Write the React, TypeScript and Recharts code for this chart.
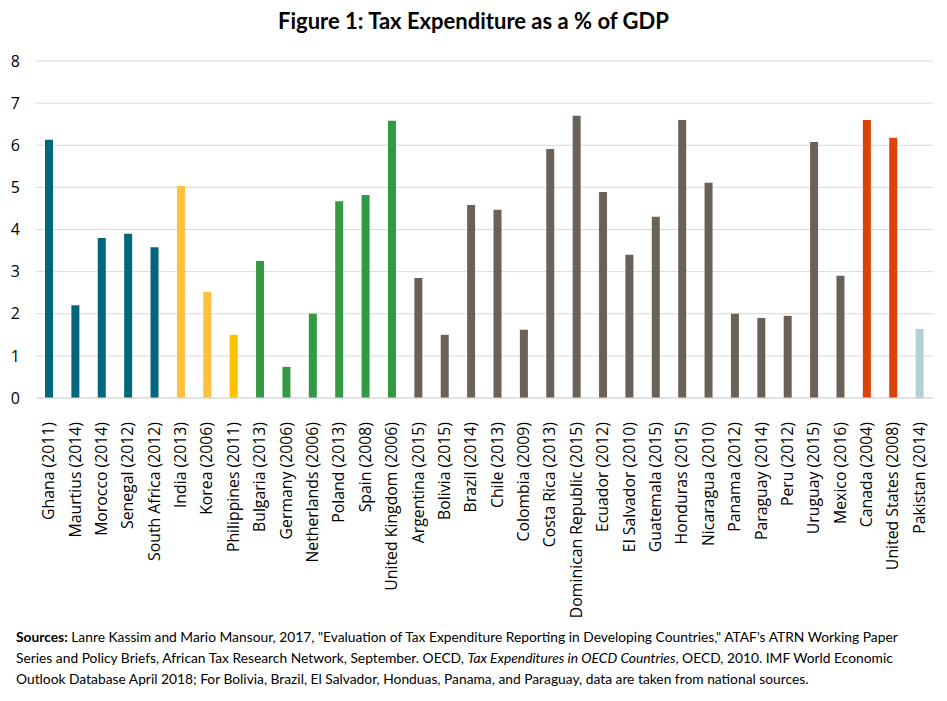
import React from 'react';
import { BarChart, Bar, XAxis, YAxis, CartesianGrid, Cell } from 'recharts';

// categories, in drawing order
const countries = [
  'Ghana (2011)', 'Maurtius (2014)', 'Morocco (2014)', 'Senegal (2012)', 'South Africa (2012)',
  'India (2013)', 'Korea (2006)', 'Philippines (2011)',
  'Bulgaria (2013)', 'Germany (2006)', 'Netherlands (2006)', 'Poland (2013)', 'Spain (2008)', 'United Kingdom (2006)',
  'Argentina (2015)', 'Bolivia (2015)', 'Brazil (2014)', 'Chile (2013)', 'Colombia (2009)', 'Costa Rica (2013)',
  'Dominican Republic (2015)', 'Ecuador (2012)', 'El Salvador (2010)', 'Guatemala (2015)', 'Honduras (2015)',
  'Nicaragua (2010)', 'Panama (2012)', 'Paraguay (2014)', 'Peru (2012)', 'Uruguay (2015)', 'Mexico (2016)',
  'Canada (2004)', 'United States (2008)', 'Pakistan (2014)',
];

const values = [
  6.13, 2.2, 3.8, 3.9, 3.58,
  5.03, 2.52, 1.5,
  3.25, 0.74, 2.0, 4.67, 4.82, 6.58,
  2.85, 1.5, 4.58, 4.47, 1.62, 5.91,
  6.7, 4.89, 3.4, 4.3, 6.6,
  5.11, 2.0, 1.9, 1.95, 6.08, 2.9,
  6.6, 6.18, 1.64,
];

// region of each bar
const regions = [
  'africa', 'africa', 'africa', 'africa', 'africa',
  'asia', 'asia', 'philippines',
  'europe', 'europe', 'europe', 'europe', 'europe', 'europe',
  'latam', 'latam', 'latam', 'latam', 'latam', 'latam',
  'latam', 'latam', 'latam', 'latam', 'latam',
  'latam', 'latam', 'latam', 'latam', 'latam', 'latam',
  'northam', 'northam', 'pakistan',
];

const regionColors: Record<string, string> = {
  africa: '#02677a',
  asia: '#ffbf3f',
  philippines: '#ffc000',
  europe: '#339a44',
  latam: '#6a6158',
  northam: '#da4409',
  pakistan: '#b5d0d3',
};

const yTicks = [0, 1, 2, 3, 4, 5, 6, 7, 8];

const data = countries.map((name, i) => ({ name, value: values[i], region: regions[i] }));

function RotatedTick(props: any) {
  const { x, y, payload } = props;
  return (
    <text
      x={0}
      y={0}
      transform={`translate(${x + 5},${y + 16}) rotate(-90)`}
      textAnchor="end"
      fontSize={15.8}
      fontFamily="'Open Sans', sans-serif"
      fill="#000"
    >
      {payload.value}
    </text>
  );
}

export default function App() {
  return (
    <div style={{ position: 'absolute', left: 0, top: 0, width: 947, height: 701, background: '#fff', fontFamily: "Lato, sans-serif" }}>
      <div style={{ position: 'absolute', top: 7, left: 0, width: 947, textAlign: 'center', fontSize: 22, fontWeight: 700, color: '#000' }}>
        Figure 1: Tax Expenditure as a % of GDP
      </div>
      <div style={{ position: 'absolute', top: 0, left: 0 }}>
        <BarChart width={947} height={620} data={data} margin={{ top: 61, right: 14, left: 0, bottom: 0 }}>
          <CartesianGrid vertical={false} stroke="#d9d9d9" strokeWidth={1} />
          <XAxis
            dataKey="name"
            interval={0}
            height={222}
            tick={<RotatedTick />}
            tickLine={false}
            axisLine={{ stroke: '#d9d9d9' }}
          />
          <YAxis
            width={36}
            domain={[0, 8]}
            ticks={yTicks}
            axisLine={false}
            tickLine={false}
            tickSize={0}
            tickMargin={16}
            tick={{ fontSize: 16, fill: '#000', fontFamily: "'Open Sans', sans-serif" }}
          />
          <Bar dataKey="value" barSize={8} isAnimationActive={false}>
            {data.map((d, i) => (
              <Cell key={i} fill={regionColors[d.region]} />
            ))}
          </Bar>
        </BarChart>
      </div>
      <div style={{ position: 'absolute', top: 626, left: 16, whiteSpace: 'nowrap', fontSize: 13.8, lineHeight: '21px', color: '#000' }}>
        <div><b>Sources:</b> Lanre Kassim and Mario Mansour, 2017, "Evaluation of Tax Expenditure Reporting in Developing Countries," ATAF's ATRN Working Paper</div>
        <div>Series and Policy Briefs, African Tax Research Network, September. OECD, <i>Tax Expenditures in OECD Countries</i>, OECD, 2010. IMF World Economic</div>
        <div>Outlook Database April 2018; For Bolivia, Brazil, El Salvador, Honduas, Panama, and Paraguay, data are taken from national sources.</div>
      </div>
    </div>
  );
}
